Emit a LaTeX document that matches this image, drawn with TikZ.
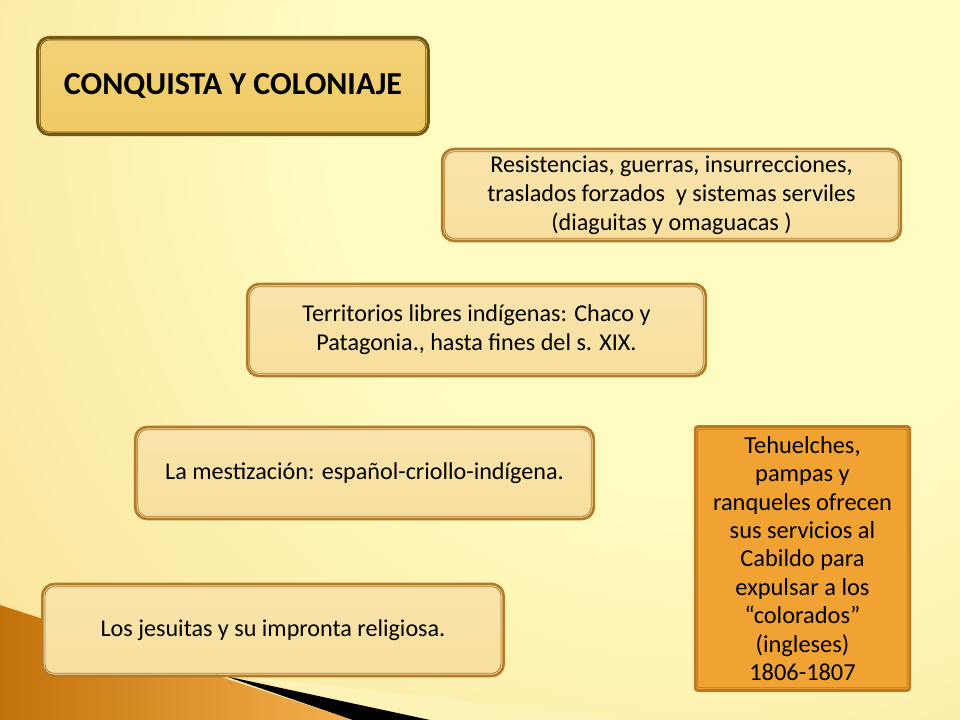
\documentclass[tikz,border=0pt]{standalone}
\usepackage{fontspec}
\setmainfont{Carlito}
\usepackage{xcolor}
\usepackage{tikz}
\usetikzlibrary{
  positioning,
  calc,
  backgrounds
}
\definecolor{bggold}{HTML}{F7D684}
\definecolor{bgpale}{HTML}{FFFCC2}
\definecolor{titlefill}{HTML}{F0CA62}
\definecolor{titleedge}{HTML}{735812}
\definecolor{itemfill}{HTML}{F8DF9E}
\definecolor{itemedge}{HTML}{B27B2C}
\definecolor{notefill}{HTML}{F0A232}
\definecolor{noteedge}{HTML}{B87A24}
\definecolor{wedgedark}{HTML}{C27208}
\definecolor{wedgelight}{HTML}{F5B050}
\pgfdeclareradialshading{bgglow}{\pgfpoint{0bp}{0bp}}{%
  color(0bp)=(bgpale); color(9bp)=(bgpale); color(30bp)=(bggold); color(50bp)=(bggold)}

\begin{document}
\begin{tikzpicture}[
  x=0.75pt, y=-0.75pt,
  every node/.style={align=center, text=black},
  titlebox/.style={draw=titleedge, line width=2.2pt, rounded corners=9pt,
                   top color=titlefill!85!white, bottom color=titlefill,
                   minimum width=293pt, minimum height=73pt,
                   font=\fontsize{24}{29}\selectfont\bfseries},
  itembox/.style={draw=itemedge, line width=2pt, rounded corners=9pt,
                  top color=itemfill!85!white, bottom color=itemfill,
                  minimum width=344pt, minimum height=69pt,
                  font=\fontsize{18.1}{21.7}\selectfont},
  notebox/.style={draw=noteedge, line width=2pt, rounded corners=2pt,
                  fill=notefill, minimum width=161pt, minimum height=198pt,
                  font=\fontsize{18.3}{21.3}\selectfont},
  rim/.style={line width=0.6pt, rounded corners=7pt}
]
  \useasboundingbox (0,0) rectangle (960,720);

  % Background glow
  \fill[bggold] (0,0) rectangle (960,720);
  \shade[shading=bgglow] (700,120) circle (1000);

  % Corner wedges, bottom left
  \shade[left color=wedgedark, right color=wedgelight]
    (0,605) -- (353,720) -- (0,720) -- cycle;
  \fill[bgpale!70!itemfill] (240,676) -- (640,720) -- (430,720) -- cycle;
  \fill[black] (225,676) -- (430,720) -- (353,720) -- cycle;

  % Title
  \node[titlebox] (title) at (233,86) {CONQUISTA Y COLONIAJE};

  % Items
  \node[itembox] (resist) at (671.5,195)
    {Resistencias, guerras, insurrecciones,\\
     traslados forzados\ \ y sistemas serviles\\
     (diaguitas y omaguacas )};
  \node[itembox] (terr) at (476.5,330)
    {Territorios libres indígenas: Chaco y\\
     Patagonia., hasta fines del s. XIX.};
  \node[itembox] (mest) at (364.5,473)
    {La mestización: español-criollo-indígena.};
  \node[itembox, minimum width=346pt] (jesu) at (273,630)
    {Los jesuitas y su impronta religiosa.};

  % Side note
  \node[notebox] (tehu) at (802.5,558.5)
    {Tehuelches,\\ pampas y\\ ranqueles ofrecen\\ sus servicios al\\
     Cabildo para\\ expulsar a los\\ “colorados”\\ (ingleses)\\ 1806-1807};

  % Inner rims
  \draw[rim, titleedge] ($(title.north west)+(4,4)$) rectangle ($(title.south east)+(-4,-4)$);
  \foreach \n in {resist,terr,mest,jesu}
    \draw[rim, itemedge] ($(\n.north west)+(4,4)$) rectangle ($(\n.south east)+(-4,-4)$);
  \draw[rim, noteedge, rounded corners=1pt]
    ($(tehu.north west)+(4,4)$) rectangle ($(tehu.south east)+(-4,-4)$);

\end{tikzpicture}
\end{document}
